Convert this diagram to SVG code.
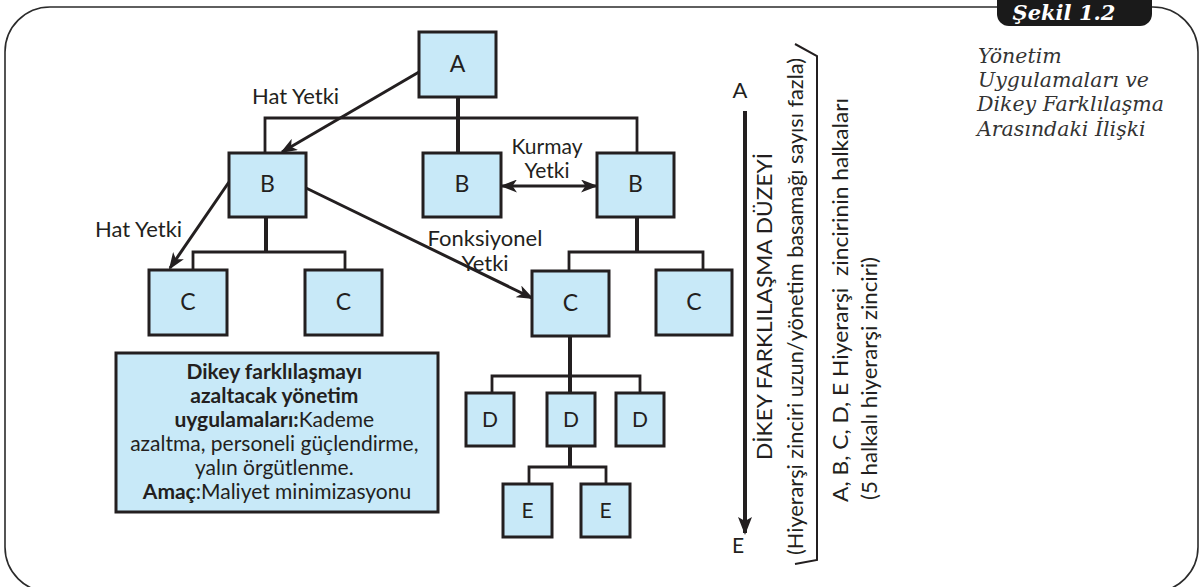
<svg xmlns="http://www.w3.org/2000/svg" width="1203" height="587" viewBox="0 0 1203 587">
  <style>
    .box { fill: #c8e9f8; stroke: #231f20; stroke-width: 3; }
    .lbl { font-family: Lato, "Open Sans", sans-serif; font-size: 22px; fill: #231f20; }
    .node { font-family: Lato, "Open Sans", sans-serif; font-size: 23px; fill: #231f20; text-anchor: middle; }
    .small { font-size: 21px; }
    .info { font-family: Lato, "Open Sans", sans-serif; font-size: 21px; fill: #231f20; text-anchor: middle; }
    .info .b { font-weight: bold; }
    .stem { stroke: #231f20; stroke-width: 4; fill: none; }
    .bar { stroke: #231f20; stroke-width: 2.8; fill: none; }
    .arrow { stroke: #231f20; stroke-width: 3; fill: none; }
    .title { font-family: "DejaVu Serif", "Liberation Serif", serif; font-style: italic; font-size: 20.5px; fill: #333333; }
    .vert { font-family: Lato, "Open Sans", sans-serif; fill: #231f20; }
  </style>
  <defs>
    <marker id="head" markerUnits="userSpaceOnUse" markerWidth="17" markerHeight="13" refX="15" refY="6.5" orient="auto-start-reverse">
      <path d="M0,0 L17,6.5 L0,13 L4.5,6.5 z" fill="#231f20"/>
    </marker>
    <marker id="headBig" markerUnits="userSpaceOnUse" markerWidth="18" markerHeight="14" refX="16" refY="7" orient="auto">
      <path d="M0,0 L18,7 L0,14 L4,7 z" fill="#231f20"/>
    </marker>
  </defs>

  <!-- outer frame -->
  <rect x="5" y="7" width="1193" height="585" rx="45" ry="45" fill="#ffffff" stroke="#2b2b2b" stroke-width="1.6"/>

  <!-- figure tab -->
  <g id="tab">
    <rect x="997" y="-15" width="155" height="41" rx="12" ry="12" fill="#1a1a1a"/>
    <text x="1064" y="20" text-anchor="middle" font-family="'DejaVu Serif', 'Liberation Serif', serif" font-weight="bold" font-style="italic" font-size="21" fill="#ffffff">Şekil 1.2</text>
  </g>

  <!-- caption -->
  <g id="caption" class="title">
    <text x="978" y="63">Yönetim</text>
    <text x="978" y="87">Uygulamaları ve</text>
    <text x="977" y="111">Dikey Farklılaşma</text>
    <text x="977" y="136">Arasındaki İlişki</text>
  </g>

  <!-- connectors -->
  <g id="connectors">
    <!-- A to B level -->
    <path class="stem" d="M458,97 V153"/>
    <path class="bar" d="M265,153 V118 H637 V153"/>
    <!-- B left to C -->
    <path class="stem" d="M266,217 V252"/>
    <path class="bar" d="M193,270 V252 H345 V270"/>
    <!-- B right to C -->
    <path class="stem" d="M637,217 V252"/>
    <path class="bar" d="M569,271 V252 H703 V270"/>
    <!-- C to D -->
    <path class="stem" d="M570,336 V393"/>
    <path class="bar" d="M492,393 V376 H640 V393"/>
    <!-- D to E -->
    <path class="stem" d="M570,446 V467"/>
    <path class="bar" d="M529,484 V467 H606 V484"/>
    <!-- authority arrows -->
    <line class="arrow" x1="419" y1="72" x2="282" y2="152" marker-end="url(#head)"/>
    <line class="arrow" x1="229" y1="182" x2="170" y2="268" marker-end="url(#head)"/>
    <line class="arrow" x1="306" y1="188" x2="532" y2="298" marker-end="url(#head)"/>
    <line class="arrow" x1="502" y1="186" x2="596" y2="186" marker-start="url(#head)" marker-end="url(#head)"/>
    <!-- hierarchy depth arrow -->
    <line x1="745" y1="111" x2="745" y2="533" stroke="#231f20" stroke-width="4" marker-end="url(#headBig)"/>
    <!-- bracket -->
    <path d="M795,44 L817,56 V560 L795,564" fill="none" stroke="#231f20" stroke-width="2"/>
  </g>

  <!-- connector labels -->
  <g id="labels" class="lbl">
    <text x="252" y="104">Hat Yetki</text>
    <text x="95" y="237">Hat Yetki</text>
    <text x="547" y="154" text-anchor="middle" font-size="21">Kurmay</text>
    <text x="547" y="178" text-anchor="middle" font-size="21">Yetki</text>
    <text x="485" y="246" text-anchor="middle">Fonksiyonel</text>
    <text x="485" y="271" text-anchor="middle">Yetki</text>
  </g>

  <!-- nodes -->
  <g id="node-a"><rect class="box" x="419" y="32" width="77" height="65"/><text class="node" x="457.5" y="72">A</text></g>
  <g id="node-b1"><rect class="box" x="229" y="153" width="77" height="64"/><text class="node" x="267.5" y="192">B</text></g>
  <g id="node-b2"><rect class="box" x="423" y="153" width="78" height="64"/><text class="node" x="462" y="192">B</text></g>
  <g id="node-b3"><rect class="box" x="597" y="153" width="77" height="64"/><text class="node" x="635.5" y="192">B</text></g>
  <g id="node-c1"><rect class="box" x="149" y="270" width="78" height="65"/><text class="node" x="188" y="310">C</text></g>
  <g id="node-c2"><rect class="box" x="305" y="270" width="77" height="65"/><text class="node" x="343.5" y="310">C</text></g>
  <g id="node-c3"><rect class="box" x="532" y="271" width="77" height="65"/><text class="node" x="570.5" y="311">C</text></g>
  <g id="node-c4"><rect class="box" x="656" y="270" width="76" height="65"/><text class="node" x="694" y="310">C</text></g>
  <g id="node-d1"><rect class="box" x="466" y="393" width="48" height="53"/><text class="node small" x="490" y="427">D</text></g>
  <g id="node-d2"><rect class="box" x="547" y="393" width="48" height="53"/><text class="node small" x="571" y="427">D</text></g>
  <g id="node-d3"><rect class="box" x="616" y="393" width="48" height="53"/><text class="node small" x="640" y="427">D</text></g>
  <g id="node-e1"><rect class="box" x="503" y="484" width="49" height="53"/><text class="node small" x="527.5" y="518">E</text></g>
  <g id="node-e2"><rect class="box" x="581" y="484" width="49" height="53"/><text class="node small" x="605.5" y="518">E</text></g>

  <!-- practices note -->
  <g id="note">
    <rect class="box" x="116" y="353" width="322" height="159"/>
    <text class="info">
      <tspan class="b" x="277" y="379">Dikey farklılaşmayı</tspan>
      <tspan class="b" x="277" y="403">azaltacak yönetim</tspan>
      <tspan x="277" y="427"><tspan class="b">uygulamaları:</tspan>Kademe</tspan>
      <tspan x="277" y="451">azaltma, personeli güçlendirme,</tspan>
      <tspan x="277" y="475">yalın örgütlenme.</tspan>
      <tspan x="277" y="499"><tspan class="b">Amaç</tspan>:Maliyet minimizasyonu</tspan>
    </text>
  </g>

  <!-- hierarchy chain annotation -->
  <g id="chain" class="vert">
    <text x="740" y="98" text-anchor="middle" font-size="22">A</text>
    <text x="738" y="553" text-anchor="middle" font-size="21">E</text>
    <text transform="translate(772,306.5) rotate(-90)" text-anchor="middle" font-size="22" textLength="307" lengthAdjust="spacingAndGlyphs">DİKEY FARKLILAŞMA DÜZEYİ</text>
    <text transform="translate(803,306.5) rotate(-90)" text-anchor="middle" font-size="21" textLength="497" lengthAdjust="spacingAndGlyphs">(Hiyerarşi zinciri uzun/yönetim basamağı sayısı fazla)</text>
    <text transform="translate(848,502) rotate(-90)" font-size="21" textLength="404" lengthAdjust="spacingAndGlyphs" xml:space="preserve">A, B, C, D, E Hiyerarşi  zincirinin halkaları</text>
    <text transform="translate(877,500) rotate(-90)" font-size="21" textLength="243" lengthAdjust="spacingAndGlyphs">(5 halkalı hiyerarşi zinciri)</text>
  </g>
</svg>
